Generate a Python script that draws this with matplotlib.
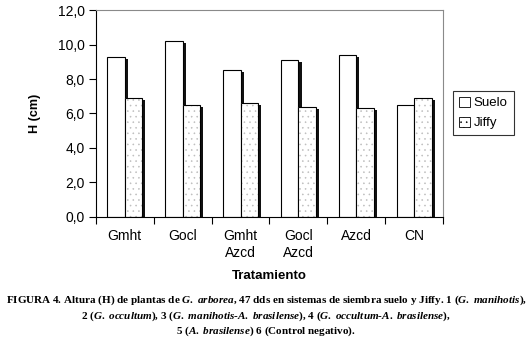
import matplotlib
matplotlib.use('Agg')
import matplotlib.pyplot as plt
import numpy as np
from matplotlib.patches import Patch

# datos
tratamientos = ['Gmht', 'Gocl', 'Gmht\nAzcd', 'Gocl\nAzcd', 'Azcd', 'CN']
suelo = [9.3, 10.2, 8.5, 9.1, 9.4, 6.5]
jiffy = [6.9, 6.5, 6.6, 6.4, 6.3, 6.9]

plt.rcParams['font.family'] = 'Liberation Sans'
plt.rcParams['hatch.linewidth'] = 0.4
plt.rcParams['mathtext.fontset'] = 'custom'
plt.rcParams['mathtext.rm'] = 'Liberation Serif:bold'
plt.rcParams['mathtext.it'] = 'Liberation Serif:italic:bold'
plt.rcParams['mathtext.bf'] = 'Liberation Serif:bold'

fig = plt.figure(figsize=(5.32, 3.47), dpi=100)
ax = fig.add_axes([0.180, 0.375, 0.653, 0.596])

x = np.arange(len(tratamientos))
w = 0.3
dx = 0.055   # desplazamiento de la sombra
dy = 0.12

# sombras
ax.bar(x - w/2 + dx, np.array(suelo) - dy, w, color='#111111', zorder=1)
ax.bar(x + w/2 + dx, np.array(jiffy) - dy, w, color='#111111', zorder=1)
# barras
ax.bar(x - w/2, suelo, w, facecolor='white', edgecolor='black', linewidth=0.8, zorder=2, label='Suelo')
ax.bar(x + w/2, jiffy, w, facecolor='white', edgecolor='#bdbdbd', hatch='...', linewidth=0, zorder=2)
ax.bar(x + w/2, jiffy, w, facecolor='none', edgecolor='black', linewidth=0.8, zorder=3)

ax.set_xlim(-0.5, len(tratamientos) - 0.5)
ax.set_ylim(0, 12)
ax.set_yticks(np.arange(0, 12.1, 2))
ax.set_yticklabels([('%.1f' % v).replace('.', ',') for v in np.arange(0, 12.1, 2)], fontsize=10)
ax.set_xticks(np.arange(-0.5, len(tratamientos)), minor=False)
ax.set_xticklabels([])
ax.set_xticks(x, minor=True)
ax.set_xticklabels(tratamientos, minor=True, fontsize=10, linespacing=1.25, va='top')
ax.tick_params(axis='x', which='minor', length=0, pad=9)
ax.tick_params(axis='x', which='major', length=5, width=0.8, direction='out')
ax.tick_params(axis='y', length=5, width=0.8, direction='out', pad=3)

for s in ['top', 'right']:
    ax.spines[s].set_color('#8a8a8a')
    ax.spines[s].set_linewidth(0.8)
for s in ['left', 'bottom']:
    ax.spines[s].set_linewidth(0.8)

ax.set_ylabel('H (cm)', fontsize=9, fontweight='bold', labelpad=12)
ax.set_xlabel('Tratamiento', fontsize=9.5, fontweight='bold', labelpad=7)

h1 = Patch(facecolor='white', edgecolor='black', linewidth=0.6)
h2 = Patch(facecolor='white', edgecolor='black', hatch='...', linewidth=0.6)
leg = fig.legend([h1, h2], ['Suelo', 'Jiffy'], loc='upper left', bbox_to_anchor=(0.852, 0.738),
                 fontsize=9.5, frameon=True, fancybox=False, edgecolor='black',
                 handlelength=0.8, handleheight=0.8, handletextpad=0.3, borderpad=0.45,
                 labelspacing=0.55, borderaxespad=0)
leg.get_frame().set_linewidth(0.8)

# pie de figura
cap_kw = dict(ha='center', va='baseline', fontsize=8.05, family='Liberation Serif', fontweight='bold')
fig.text(0.5, 1 - 303/347, r'FIGURA 4. Altura (H) de plantas de $\mathit{G.\ arborea}$, 47 dds en sistemas de siembra suelo y Jiffy. 1 ($\mathit{G.\ manihotis}$),', **cap_kw)
fig.text(0.5, 1 - 319/347, r'2 ($\mathit{G.\ occultum}$), 3 ($\mathit{G.\ manihotis}$-$\mathit{A.\ brasilense}$), 4 ($\mathit{G.\ occultum}$-$\mathit{A.\ brasilense}$),', **cap_kw)
fig.text(0.5, 1 - 334/347, r'5 ($\mathit{A.\ brasilense}$) 6 (Control negativo).', **cap_kw)

fig.savefig('out.png', dpi=100)
